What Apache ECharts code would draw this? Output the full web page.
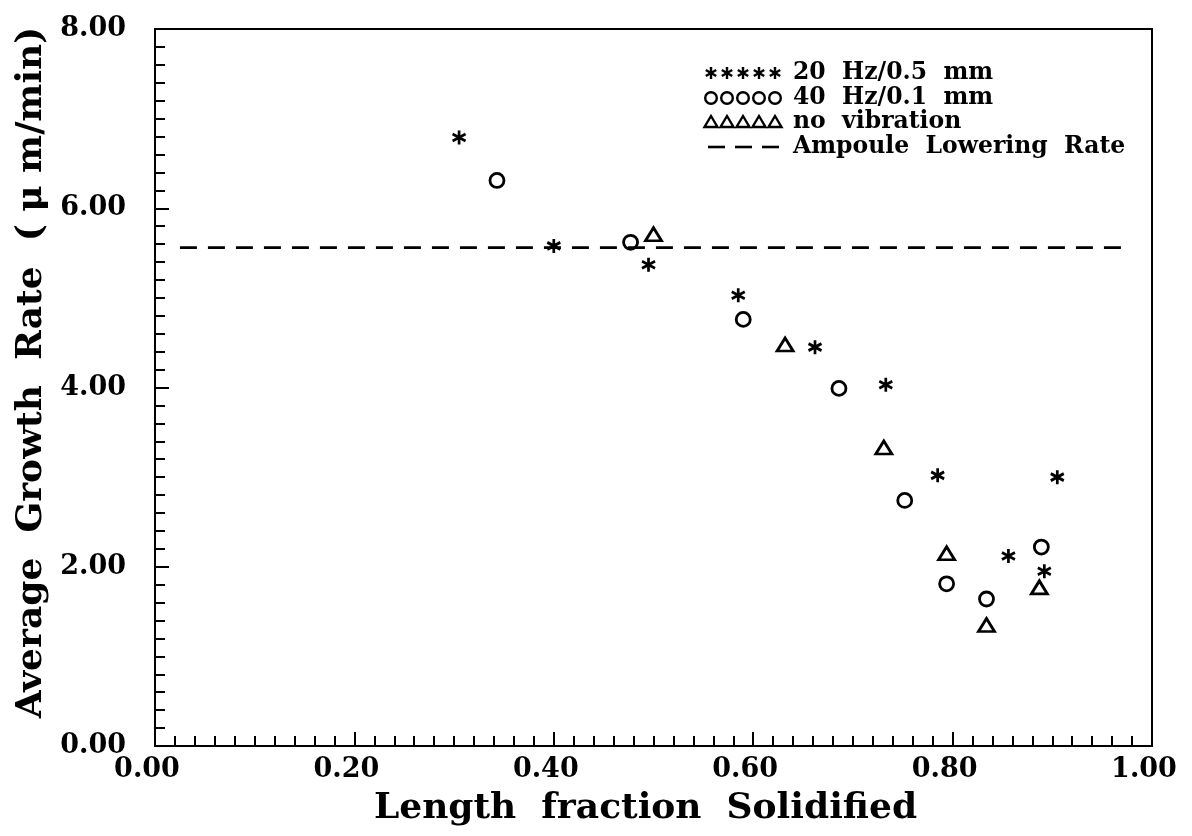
<!DOCTYPE html>
<html>
<head>
<meta charset="utf-8">
<script src="https://cdn.jsdelivr.net/npm/echarts@6/dist/echarts.min.js"></script>
<style>
html,body{margin:0;padding:0;background:#fff;}
#chart{width:1192px;height:836px;}
</style>
</head>
<body>
<div id="chart"></div>
<script>
// ---- data ----
const starX = [0.305, 0.400, 0.495, 0.585, 0.662, 0.733, 0.785, 0.856, 0.892, 0.905];
const starY = [6.79, 5.58, 5.37, 5.03, 4.45, 4.03, 3.02, 2.12, 1.95, 3.00];
const circleX = [0.343, 0.477, 0.590, 0.686, 0.752, 0.794, 0.834, 0.889];
const circleY = [6.31, 5.62, 4.76, 3.99, 2.74, 1.81, 1.64, 2.22];
const triX = [0.500, 0.632, 0.731, 0.794, 0.834, 0.887];
const triY = [5.71, 4.48, 3.33, 2.15, 1.35, 1.77];
const lowerRateX = [0.025, 0.970];
const lowerRate = 5.56;
const seriesNames = ['20  Hz/0.5  mm', '40  Hz/0.1  mm', 'no  vibration', 'Ampoule  Lowering  Rate'];
const xTitle = 'Length  fraction  Solidified';
const yTitle = 'Average  Growth  Rate  ( \u03bc m/min)';

const pair = (xs, ys) => xs.map((x, i) => [x, ys[i]]);

const FONT = 'DejaVu Serif';
const BLACK = '#000';
const hollow = { color: 'rgba(0,0,0,0)', borderColor: BLACK, borderWidth: 2.8, opacity: 1 };
const starPath = 'path://M6,0L6,14M0,3.5L12,10.5M0,10.5L12,3.5';

// ---- legend keys (drawn as graphic decorations) ----
const legLeft = 703, legStep = 16, legRows = [73, 98, 122, 147], legTextX = 793;
const keyStroke = { stroke: BLACK, lineWidth: 2.4, fill: 'none' };
const legendGraphics = [];
for (let i = 0; i < 5; i++) {
  const c = legLeft + 8 + legStep * i;
  let y = legRows[0];
  legendGraphics.push({ type: 'line', shape: { x1: c, y1: y - 6, x2: c, y2: y + 6 }, style: keyStroke });
  legendGraphics.push({ type: 'line', shape: { x1: c - 5.2, y1: y - 3, x2: c + 5.2, y2: y + 3 }, style: keyStroke });
  legendGraphics.push({ type: 'line', shape: { x1: c - 5.2, y1: y + 3, x2: c + 5.2, y2: y - 3 }, style: keyStroke });
  y = legRows[1];
  legendGraphics.push({ type: 'circle', shape: { cx: c, cy: y, r: 5.8 }, style: keyStroke });
  y = legRows[2];
  legendGraphics.push({ type: 'polygon', shape: { points: [[c, y - 6], [c + 6.5, y + 5], [c - 6.5, y + 5]] }, style: keyStroke });
}
for (let j = 0; j < 3; j++) {
  const x0 = 708 + j * 27;
  legendGraphics.push({ type: 'line', shape: { x1: x0, y1: legRows[3], x2: x0 + 17, y2: legRows[3] }, style: { stroke: BLACK, lineWidth: 2.6 } });
}
seriesNames.forEach((n, i) => {
  legendGraphics.push({ type: 'text', x: legTextX, y: legRows[i],
    style: { text: n, fill: BLACK, font: 'bold 23.5px "DejaVu Serif"', verticalAlign: 'middle', align: 'left' } });
});

const chart = echarts.init(document.getElementById('chart'), null, { renderer: 'canvas' });
chart.setOption({
  backgroundColor: '#fff',
  animation: false,
  grid: { left: 155, right: 40, top: 29, bottom: 90, show: true, borderColor: BLACK, borderWidth: 2, containLabel: false },
  graphic: legendGraphics,
  xAxis: {
    type: 'value', min: 0, max: 1, interval: 0.2,
    name: xTitle, nameLocation: 'middle', nameGap: 45,
    nameTextStyle: { fontFamily: FONT, fontWeight: 'bold', fontSize: 36, color: BLACK, padding: [0, 16, 0, 0] },
    axisLine: { show: true, onZero: false, lineStyle: { color: BLACK, width: 2 } },
    axisTick: { show: true, inside: true, length: 14, lineStyle: { color: BLACK, width: 2 } },
    minorTick: { show: true, splitNumber: 10, length: 10, lineStyle: { color: BLACK, width: 2 } },
    splitLine: { show: false },
    axisLabel: { margin: 10, padding: [0, 16, 0, 0], fontFamily: FONT, fontWeight: 'bold', fontSize: 27, color: BLACK, formatter: v => v.toFixed(2) }
  },
  yAxis: {
    type: 'value', min: 0, max: 8, interval: 2,
    name: yTitle, nameLocation: 'middle', nameGap: 99, nameRotate: 90,
    nameTextStyle: { fontFamily: FONT, fontWeight: 'bold', fontSize: 36, color: BLACK, padding: [0, 0, 0, 30] },
    axisLine: { show: true, onZero: false, lineStyle: { color: BLACK, width: 2 } },
    axisTick: { show: true, inside: true, length: 14, lineStyle: { color: BLACK, width: 2 } },
    minorTick: { show: true, splitNumber: 10, length: 10, lineStyle: { color: BLACK, width: 2 } },
    splitLine: { show: false },
    axisLabel: { margin: 29, fontFamily: FONT, fontWeight: 'bold', fontSize: 27, color: BLACK, formatter: v => v.toFixed(2) }
  },
  series: [
    { name: seriesNames[0], type: 'scatter', data: pair(starX, starY), symbol: starPath, symbolSize: [13, 14], itemStyle: hollow },
    { name: seriesNames[1], type: 'scatter', data: pair(circleX, circleY), symbol: 'circle', symbolSize: 14, itemStyle: hollow },
    { name: seriesNames[2], type: 'scatter', data: pair(triX, triY), symbol: 'triangle', symbolSize: [16, 13], itemStyle: hollow },
    { name: seriesNames[3], type: 'line', data: lowerRateX.map(x => [x, lowerRate]), symbol: 'none',
      lineStyle: { color: BLACK, width: 2.8, type: [17, 11] }, itemStyle: { color: BLACK } }
  ]
});
</script>
</body>
</html>
